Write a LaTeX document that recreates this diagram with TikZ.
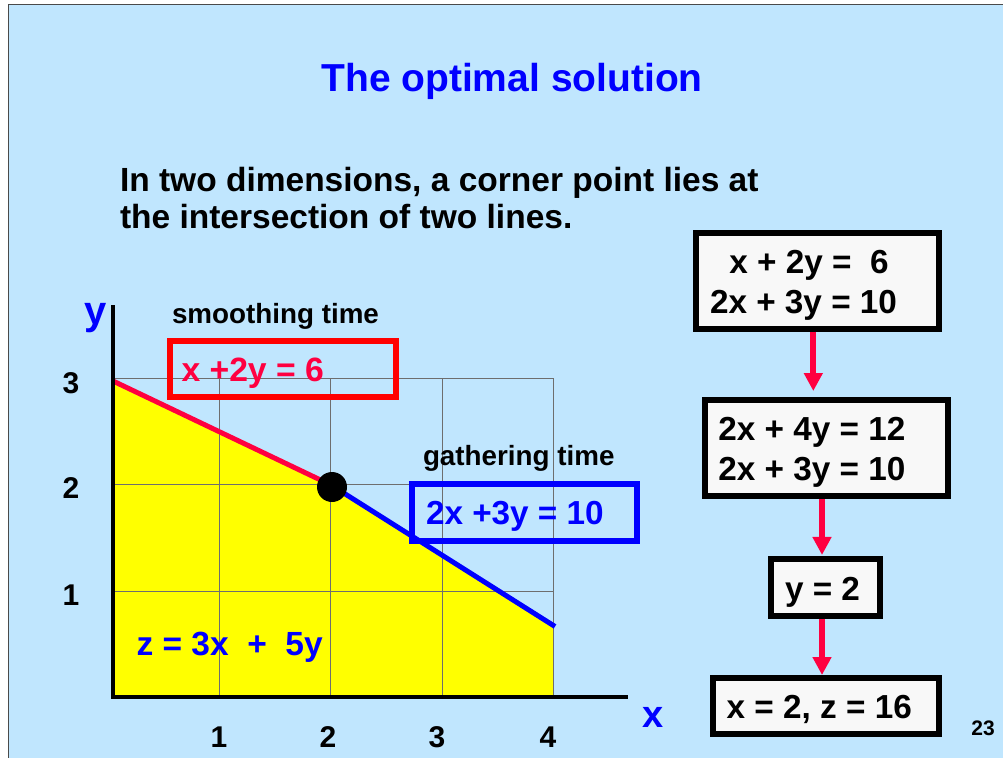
\documentclass[tikz,border=0pt]{standalone}
\usepackage{fontspec}
\setmainfont{Liberation Sans}
\usetikzlibrary{arrows.meta}
\definecolor{slidebg}{HTML}{C0E6FE}
\definecolor{pureblue}{HTML}{0000FF}
\definecolor{crim}{HTML}{FF0040}
\definecolor{boxfill}{HTML}{F8F8F8}
\definecolor{gridgray}{HTML}{6E6E6E}
\definecolor{framegray}{HTML}{4A4A4A}
\definecolor{fillyellow}{HTML}{FFFF00}
\newcommand{\fsz}[2]{\fontsize{#1}{#2}\selectfont\bfseries}
\tikzset{
  txt/.style={inner sep=0pt, outer sep=0pt},
  eqbox/.style={draw=black, line width=6pt, fill=boxfill, inner sep=0pt},
  flow/.style={draw=crim, line width=6pt, -{Triangle[width=18pt,length=18pt]}},
  gridline/.style={draw=gridgray, line width=1pt},
  axisline/.style={draw=black, line width=4pt},
  lblbox/.style={line width=6pt, fill=none, inner sep=0pt},
}
\begin{document}
\begin{tikzpicture}[x=1pt,y=-1pt]
\fill[white] (0,0) rectangle (1003,757);
\useasboundingbox (0,0) rectangle (1003,757);
\draw[fill=slidebg, draw=framegray, line width=1pt] (8.5,5) rectangle (1020,775);

% title and text
\node[txt, text=pureblue, anchor=base] (title) at (512,92) {\fsz{39}{45}The optimal solution};
\node[txt, anchor=base west] (para1) at (120,191) {\fsz{33.5}{38}In two dimensions, a corner point lies at};
\node[txt, anchor=base west] (para2) at (120,228) {\fsz{33.5}{38}the intersection of two lines.};

% feasible region
\fill[fillyellow] (113,696) -- (113,381) -- (331,485) -- (553,626) -- (553,696) -- cycle;
% grid
\foreach \gx in {219.3,330.7,442,553} { \draw[gridline] (\gx,378) -- (\gx,696); }
\foreach \gy in {378,484.5,591} { \draw[gridline] (113,\gy) -- (553,\gy); }
% constraint lines
\draw[crim, line width=5pt] (113,381) -- (331,485);
\draw[pureblue, line width=5pt] (331,485) -- (555,626.5);
% axes
\draw[axisline] (113,305) -- (113,698);
\draw[axisline] (111,696.5) -- (628,696.5);
% corner point
\fill[black] (332,487) circle (15);

% axis labels
\node[txt, text=pureblue] (ylab) at (96,318) {\fsz{40}{46}y};
\node[txt, text=pureblue] (xlab) at (653,717) {\fsz{38}{44}x};
\node[txt, anchor=base] (ty3) at (71,393) {\fsz{30}{34}3};
\node[txt, anchor=base] (ty2) at (71,498) {\fsz{30}{34}2};
\node[txt, anchor=base] (ty1) at (71,605) {\fsz{30}{34}1};
\node[txt, anchor=base] (tx1) at (219,747) {\fsz{30}{34}1};
\node[txt, anchor=base] (tx2) at (328,747) {\fsz{30}{34}2};
\node[txt, anchor=base] (tx3) at (437,747) {\fsz{30}{34}3};
\node[txt, anchor=base] (tx4) at (548,747) {\fsz{30}{34}4};

% constraint labels
\node[txt, anchor=base west] (smooth) at (172,323) {\fsz{27.8}{32}smoothing time};
\draw[red, lblbox] (169.5,341) rectangle (395.5,397);
\node[txt, anchor=base west, text=crim] (eq1) at (181.5,381.5) {\fsz{33.7}{38}x +2y = 6};
\node[txt, anchor=base west] (gather) at (423,465) {\fsz{27.8}{32}gathering time};
\draw[pureblue, lblbox] (412,483.7) rectangle (637,541);
\node[txt, anchor=base west, text=pureblue] (eq2) at (426,524.3) {\fsz{33.3}{38}2x +3y = 10};
\node[txt, anchor=base west, text=pureblue] (obj) at (136.5,655) {\fsz{33.5}{38}z = 3x\ \ +\ \ 5y};

% solution steps
\node[eqbox, minimum width=243pt, minimum height=95.7pt] (b1) at (817.5,280.8) {};
\node[txt, anchor=base west] (b1l1) at (729.3,273.3) {\fsz{33.3}{38}x + 2y =\ \ 6};
\node[txt, anchor=base west] (b1l2) at (710,313.3) {\fsz{33.3}{38}2x + 3y = 10};

\node[eqbox, minimum width=243pt, minimum height=96pt] (b2) at (826.2,448) {};
\node[txt, anchor=base west] (b2l1) at (718.3,440.7) {\fsz{33.3}{38}2x + 4y = 12};
\node[txt, anchor=base west] (b2l2) at (718.3,480) {\fsz{33.3}{38}2x + 3y = 10};

\node[eqbox, minimum width=109pt, minimum height=56.7pt] (b3) at (825.5,587.3) {};
\node[txt, anchor=base west] (b3l1) at (785,600) {\fsz{33.3}{38}y = 2};

\node[eqbox, minimum width=226pt, minimum height=56pt] (b4) at (826,706) {};
\node[txt, anchor=base west] (b4l1) at (726.7,718.3) {\fsz{33.3}{38}x = 2, z = 16};

\coordinate (a1x) at (813.3,0);
\coordinate (a2x) at (822,0);
\draw[flow, shorten >=6pt] (b1.south -| a1x) -- (b2.north -| a1x);
\draw[flow, shorten >=1pt] (b2.south -| a2x) -- (b3.north -| a2x);
\draw[flow] (b3.south -| a2x) -- (b4.north -| a2x);

\node[txt, anchor=base] (pnum) at (983,735) {\fsz{21}{24}23};
\end{tikzpicture}
\end{document}
